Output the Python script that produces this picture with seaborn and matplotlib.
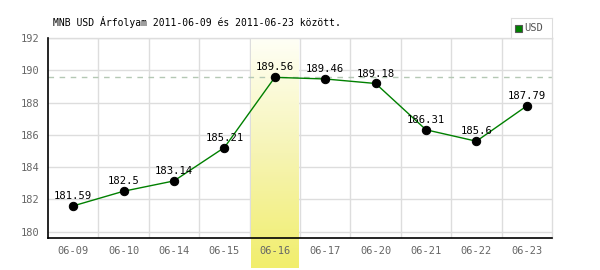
import numpy as np
import pandas as pd
import matplotlib
matplotlib.use("Agg")
import matplotlib.pyplot as plt
import seaborn as sns
from matplotlib.colors import LinearSegmentedColormap

dates = ["06-09", "06-10", "06-14", "06-15", "06-16", "06-17", "06-20", "06-21", "06-22", "06-23"]
values = [181.59, 182.5, 183.14, 185.21, 189.56, 189.46, 189.18, 186.31, 185.6, 187.79]
labels = ["181.59", "182.5", "183.14", "185.21", "189.56", "189.46", "189.18", "186.31", "185.6", "187.79"]
yticks = [180, 182, 184, 186, 188, 190, 192]
highlight = "06-16"
title = "MNB USD Árfolyam 2011-06-09 és 2011-06-23 között."

sns.set_style("white")
plt.rcParams['font.family'] = ['DejaVu Sans Mono']

df = pd.DataFrame({"pos": np.arange(len(dates)), "value": values})

fig = plt.figure(figsize=(6, 2.7), dpi=100)
ax = fig.add_axes([48/600, 1-238/270, 504/600, 200/270])

ymin, ymax = 179.6, 192

# grid
for yt in yticks:
    ax.axhline(yt, color="#dddddd", lw=1, zorder=1)
for i in range(len(dates)-1):
    ax.axvline(i+0.5, color="#dddddd", lw=1, zorder=1)

# highlight band with gradient (covers grid)
hi = dates.index(highlight)
px_per_unit = 200/(ymax-ymin)
ybot = ymin - 30/px_per_unit
cmap = LinearSegmentedColormap.from_list("hl", ["#fffff6", "#f6f4b4", "#f1ee6c"])
grad = np.linspace(0, 1, 256).reshape(-1, 1)
ax.imshow(grad, aspect="auto", cmap=cmap,
          extent=[hi-0.5+1.2/50.4, hi+0.5-1.2/50.4, ybot, ymax],
          origin="upper", zorder=1.2, clip_on=False)
ax.set_xlim(-0.5, len(dates)-0.5)
ax.set_ylim(ymin, ymax)

# max dashed line
ax.axhline(max(values), color="#b4c8b4", lw=1, ls=(0, (4, 4)), zorder=2)

sns.lineplot(data=df, x="pos", y="value", color="#008000", lw=1, ax=ax, zorder=3,
             marker="o", markersize=6, markerfacecolor="black", markeredgecolor="black")

for i, (v, t) in enumerate(zip(values, labels)):
    ax.annotate(t, (i, v), xytext=(0, 3.5), textcoords="offset points", ha="center",
                va="bottom", fontsize=7.6, color="black", zorder=4)

ax.set_xlim(-0.5, len(dates)-0.5)
ax.set_ylim(ymin, ymax)
ax.set_xticks(range(len(dates)))
ax.set_xticklabels(dates)
ax.set_yticks(yticks)
ax.tick_params(axis="both", length=0, labelsize=7.5, labelcolor="#666666", pad=6)
ax.xaxis.set_zorder(5)
ax.yaxis.set_zorder(5)
ax.set_xlabel("")
ax.set_ylabel("")

for s in ["top", "right"]:
    ax.spines[s].set_color("#dddddd")
    ax.spines[s].set_linewidth(1)
for s in ["left", "bottom"]:
    ax.spines[s].set_color("black")
    ax.spines[s].set_linewidth(1.2)
    ax.spines[s].set_zorder(5)

fig.text(53/600, 1-22/270, title, fontsize=7, color="black", va="center", ha="left")

# legend box
lax = fig.add_axes([511/600, 1-38/270, 41/600, 20/270])
lax.set_xlim(0, 41); lax.set_ylim(0, 20)
lax.set_xticks([]); lax.set_yticks([])
for s in lax.spines.values():
    s.set_color("#dddddd")
lax.add_patch(plt.Rectangle((4, 6.5), 7, 7, facecolor="#008000", edgecolor="#555555", lw=0.8))
lax.text(13.5, 10, "USD", fontsize=7.5, color="#555555", va="center", ha="left")

fig.savefig("out.png", dpi=100)
